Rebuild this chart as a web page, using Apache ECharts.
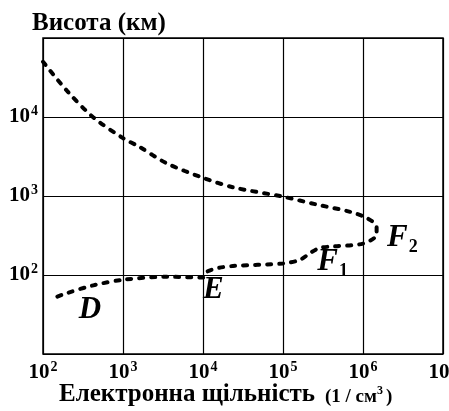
<!DOCTYPE html>
<html lang="uk">

<head>
    <meta charset="UTF-8">
    <title>Іоносфера</title>
    <script src="https://cdn.jsdelivr.net/npm/echarts@6/dist/echarts.min.js"></script>
    <style>
        body { margin: 0; background: #fff; }
    </style>
</head>

<body>
    <div id="main" style="width: 449px;height: 411px;"></div>
    <script>
        // електронна щільність (1/см3) і висота (км) вздовж кривої
        var density = [100, 200, 420, 1000, 1600, 3500, 10000, 23700, 100000, 263000, 692000, 1120000, 1480000,
            1480000, 1000000, 427000, 288000, 219000, 162000, 100000, 23700, 15800, 11200, 10000, 3500, 1000, 427, 200, 135]
        var height = [50000, 21400, 10000, 5400, 4200, 2600, 1700, 1290, 980, 780, 630, 525, 410,
            325, 250, 230, 220, 190, 155, 140, 130, 123, 110, 93, 95, 87, 74, 59, 51]

        // шари
        var layerNames = ['D', 'E', 'F1', 'F2']
        var layerX = [387, 13500, 417000, 3100000]
        var layerY = [36, 65, 146, 294]

        var xTicks = [2, 3, 4, 5, 6, 7]
        var yTicks = [2, 3, 4]

        var mCharts = echarts.init(document.getElementById('main'))

        var curve = density.map(function(d, i) { return [d, height[i]] })
        var layers = layerNames.map(function(n, i) { return { name: n, value: [layerX[i], layerY[i]] } })

        function powLabel(v, list) {
            var e = Math.round(Math.log10(v))
            if (list.indexOf(e) < 0) return ''
            return '{b|10}{s|' + e + '}'
        }
        var tickRich = {
            b: { fontFamily: 'Liberation Serif', fontWeight: 'bold', fontSize: 21, color: '#000' },
            s: { fontFamily: 'Liberation Serif', fontWeight: 'bold', fontSize: 14, color: '#000', padding: [0, 0, 11, 1] }
        }

        var option = {
            animation: false,
            grid: {
                left: 43, right: 6, top: 38, bottom: 57, outerBoundsMode: 'none',
                show: true, borderColor: '#000', borderWidth: 1.5
            },
            xAxis: {
                type: 'log', logBase: 10, min: 100, max: 10000000,
                axisLine: { show: false }, axisTick: { show: false },
                splitLine: { show: true, lineStyle: { color: '#000', width: 1.2 } },
                axisLabel: { margin: 6, formatter: function(v) { return powLabel(v, xTicks) }, rich: tickRich }
            },
            yAxis: {
                type: 'log', logBase: 10, min: 10, max: 100000,
                axisLine: { show: false }, axisTick: { show: false },
                splitLine: { show: true, lineStyle: { color: '#000', width: 1.2 } },
                axisLabel: { margin: 5, formatter: function(v) { return powLabel(v, yTicks) }, rich: tickRich }
            },
            graphic: [{
                type: 'text', left: 32, top: 11,
                style: { text: 'Висота (км)', font: 'bold 25px "Liberation Serif"', fill: '#000' }
            }, {
                type: 'text', left: 59, top: 382,
                style: {
                    text: '{a|Електронна щільність}   {c|(1 / см}{d|3}{c|)}',
                    rich: {
                        a: { fontFamily: 'Liberation Serif', fontWeight: 'bold', fontSize: 25, fill: '#000' },
                        c: { fontFamily: 'Liberation Serif', fontWeight: 'bold', fontSize: 19, fill: '#000', padding: [6, 0, 0, 0] },
                        d: { fontFamily: 'Liberation Serif', fontWeight: 'bold', fontSize: 12, fill: '#000', padding: [0, 3, 8, 0] }
                    }
                }
            }],
            series: [{
                type: 'line',
                data: curve,
                smooth: 0.3,
                symbol: 'none',
                lineStyle: { color: '#000', width: 4, type: [4, 8], cap: 'round' }
            }, {
                type: 'scatter',
                data: layers,
                symbolSize: 1,
                itemStyle: { color: 'transparent', opacity: 1 },
                label: {
                    show: true, position: 'inside', color: '#000', textBorderWidth: 0, opacity: 1,
                    formatter: function(p) {
                        return '{m|' + p.name.charAt(0) + '}' + (p.name.length > 1 ? '{n|' + p.name.charAt(1) + '}' : '')
                    },
                    rich: {
                        m: { fontFamily: 'Liberation Serif', fontWeight: 'bold', fontStyle: 'italic', fontSize: 31, color: '#000', textBorderWidth: 0 },
                        n: { fontFamily: 'Liberation Serif', fontWeight: 'bold', fontSize: 18, color: '#000', textBorderWidth: 0, padding: [18, 0, 0, 1] }
                    }
                }
            }]
        }
        mCharts.setOption(option)
    </script>
</body>

</html>
